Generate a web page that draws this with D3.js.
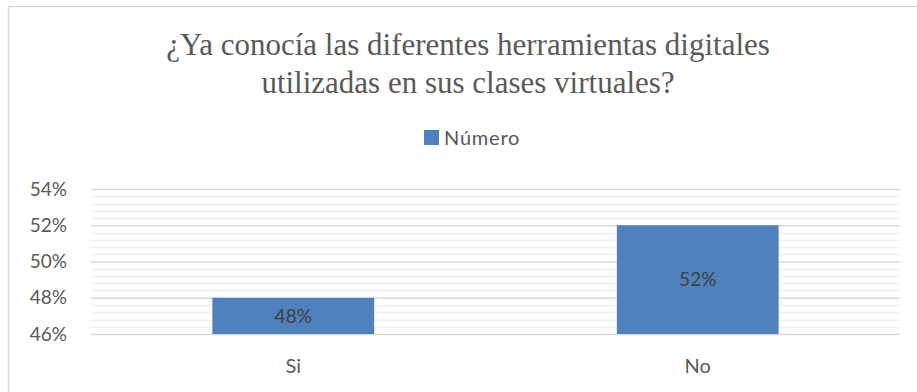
<!DOCTYPE html>
<html>
<head>
<meta charset="utf-8">
<script src="https://cdn.jsdelivr.net/npm/d3@7/dist/d3.min.js"></script>
<style>
  html, body { margin: 0; padding: 0; background: #fff; }
  svg { display: block; }
</style>
</head>
<body>
<script>
const categories = ["Si", "No"];
const seriesName = "Número";
const values = [0.48, 0.52];
const yTicks = [0.46, 0.48, 0.50, 0.52, 0.54];
const titleLines = ["¿Ya conocía las diferentes herramientas digitales", "utilizadas en sus clases virtuales?"];

const W = 917, H = 392;
const plot = { left: 91, right: 900, top: 189, bottom: 334 };
const barColor = "#4F81BD";
const textColor = "#595959";
const sansFont = "Lato, 'Open Sans', 'Liberation Sans', sans-serif";

const svg = d3.select("body").append("svg").attr("width", W).attr("height", H);

// outer frame
svg.append("rect")
  .attr("x", 8.5).attr("y", 6.5)
  .attr("width", W + 10).attr("height", H + 10)
  .attr("fill", "none").attr("stroke", "#d9d9d9").attr("stroke-width", 1.5);

const y = d3.scaleLinear().domain([0.46, 0.54]).range([plot.bottom, plot.top]);
const x = d3.scaleBand().domain(categories).range([plot.left, plot.right]).paddingInner(0.6).paddingOuter(0.3);

// minor gridlines every 0.4%
const minor = d3.range(0, 21).map(i => 0.46 + i * 0.004).filter(v => !yTicks.some(t => Math.abs(t - v) < 1e-9));
svg.append("g").selectAll("line").data(minor).join("line")
  .attr("x1", plot.left).attr("x2", plot.right)
  .attr("y1", d => Math.round(y(d)) + 0.5).attr("y2", d => Math.round(y(d)) + 0.5)
  .attr("stroke", "#f0f0f0").attr("stroke-width", 1.3);

// major gridlines + tick labels via axis
const yAxis = d3.axisLeft(y).tickValues(yTicks).tickSize(-(plot.right - plot.left)).tickPadding(24)
  .tickFormat(d => Math.round(d * 100) + "%");
const gy = svg.append("g").attr("transform", `translate(${plot.left},0)`).call(yAxis);
gy.select(".domain").remove();
gy.selectAll(".tick line").attr("stroke", "#d9d9d9").attr("stroke-width", 1.5);
gy.selectAll(".tick text").attr("fill", textColor).style("font-family", sansFont).style("font-size", "19px");

// bars
svg.append("g").selectAll("rect").data(values).join("rect")
  .attr("x", (d, i) => x(categories[i]))
  .attr("width", x.bandwidth())
  .attr("y", d => y(d))
  .attr("height", d => y(0.46) - y(d))
  .attr("fill", barColor);

// value labels
svg.append("g").selectAll("text").data(values).join("text")
  .attr("x", (d, i) => x(categories[i]) + x.bandwidth() / 2)
  .attr("y", d => (y(d) + y(0.46)) / 2)
  .attr("dy", "0.36em")
  .attr("text-anchor", "middle")
  .attr("fill", "#404040")
  .style("font-family", sansFont).style("font-size", "19px")
  .text(d => Math.round(d * 100) + "%");

// category axis
const xAxis = d3.axisBottom(x).tickSize(0).tickPadding(25);
const gx = svg.append("g").attr("transform", `translate(0,${plot.bottom})`).call(xAxis);
gx.select(".domain").remove();
gx.selectAll(".tick text").attr("fill", textColor).style("font-family", sansFont).style("font-size", "20px");

// title
svg.append("g").selectAll("text").data(titleLines).join("text")
  .attr("x", 468).attr("y", (d, i) => 55 + i * 38)
  .attr("text-anchor", "middle")
  .attr("fill", textColor)
  .style("font-family", "'Liberation Serif', 'DejaVu Serif', serif")
  .style("font-size", "31px")
  .text(d => d);

// legend
const lg = svg.append("g").attr("transform", "translate(424,130)");
lg.append("rect").attr("width", 15).attr("height", 15).attr("fill", barColor);
lg.append("text").attr("x", 20).attr("y", 15)
  .attr("fill", textColor).style("font-family", sansFont).style("font-size", "20px")
  .style("letter-spacing", "0.8px")
  .text(seriesName);
</script>
</body>
</html>
